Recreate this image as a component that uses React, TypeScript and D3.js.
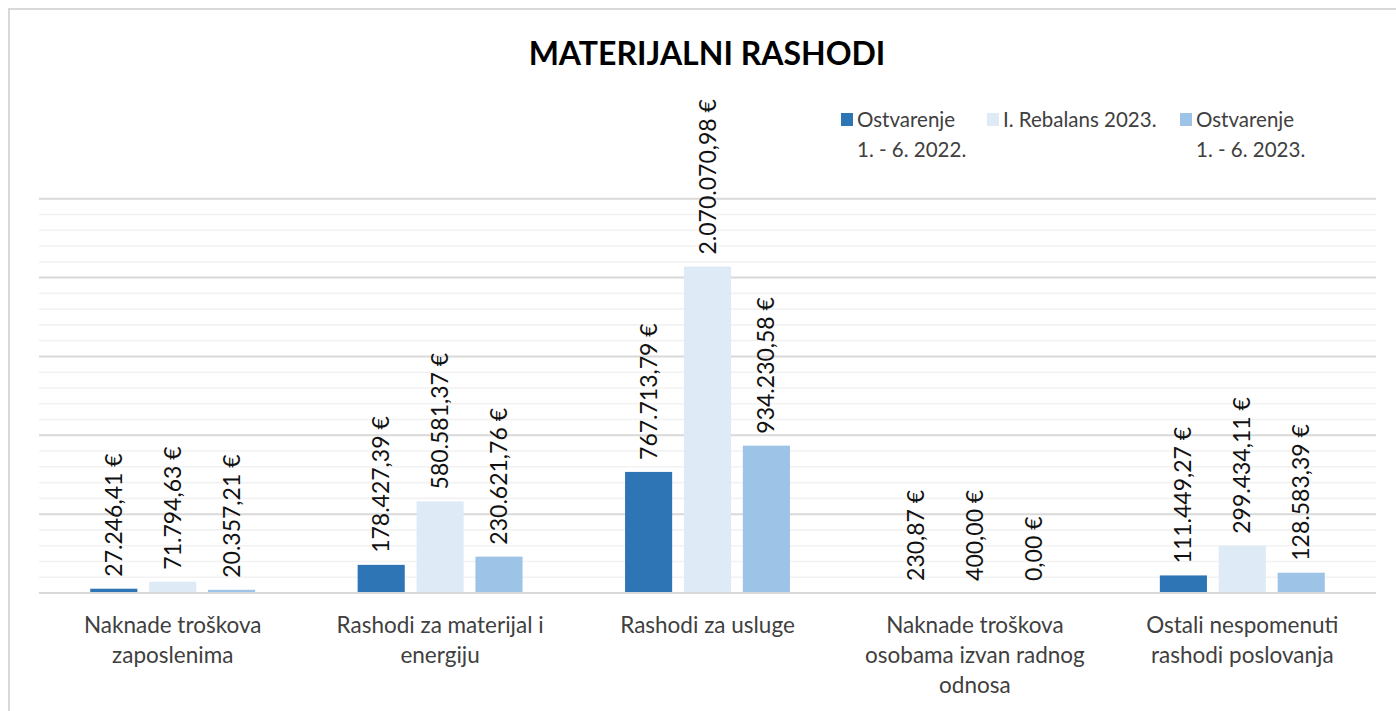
import * as d3 from 'd3';

const CATEGORIES = [
  'Naknade troškova zaposlenima',
  'Rashodi za materijal i energiju',
  'Rashodi za usluge',
  'Naknade troškova osobama izvan radnog odnosa',
  'Ostali nespomenuti rashodi poslovanja',
];
// wrapped lines as they appear under the axis
const CATEGORY_LINES = [
  ['Naknade troškova', 'zaposlenima'],
  ['Rashodi za materijal i', 'energiju'],
  ['Rashodi za usluge'],
  ['Naknade troškova', 'osobama izvan radnog', 'odnosa'],
  ['Ostali nespomenuti', 'rashodi poslovanja'],
];

const SERIES = ['Ostvarenje 1. - 6. 2022.', 'I. Rebalans 2023.', 'Ostvarenje 1. - 6. 2023.'];
const SERIES_LINES = [['Ostvarenje', '1. - 6. 2022.'], ['I. Rebalans 2023.'], ['Ostvarenje', '1. - 6. 2023.']];
const COLORS = ['#2E75B6', '#DEEBF7', '#9DC3E6'];

const REAL_2022 = [27246.41, 178427.39, 767713.79, 230.87, 111449.27];
const REBALANS_2023 = [71794.63, 580581.37, 2070070.98, 400.0, 299434.11];
const REAL_2023 = [20357.21, 230621.76, 934230.58, 0.0, 128583.39];
const VALUES = [REAL_2022, REBALANS_2023, REAL_2023];

const Y_MAX = 2500000;
const MINOR_STEP = 100000;
const MAJOR_STEP = 500000;

const FONT = "Lato, 'Open Sans', sans-serif";

const fmt = (v: number) => {
  const [int, dec] = v.toFixed(2).split('.');
  return `${int.replace(/\B(?=(\d{3})+(?!\d))/g, '.')},${dec} €`;
};

export default function App() {
  const W = 1396;
  const H = 711;
  const plot = { left: 39, right: 1376, top: 198.7, bottom: 593 };

  const x0 = d3.scaleBand<string>().domain(CATEGORIES).range([plot.left, plot.right]);
  const x1 = d3.scaleBand<string>().domain(SERIES).range([0, x0.bandwidth()]).paddingInner(0.2).paddingOuter(0.87);
  const y = d3.scaleLinear().domain([0, Y_MAX]).range([plot.bottom, plot.top]);

  const grid = d3.range(MINOR_STEP, Y_MAX + 1, MINOR_STEP);

  return (
    <svg width={W} height={H} style={{ position: 'absolute', left: 0, top: 0, background: '#fff' }} fontFamily={FONT}>
      {/* chart frame (cropped on right and bottom) */}
      <path d={`M9,${H + 5}V9H${W + 5}`} fill="none" stroke="#D9D9D9" strokeWidth={2} />

      <text x={707} y={65} textAnchor="middle" fontSize={32} fontWeight={700} fill="#000">
        MATERIJALNI RASHODI
      </text>

      {/* gridlines */}
      {grid.map((v) => {
        const major = v % MAJOR_STEP === 0;
        return (
          <line key={v} x1={plot.left} x2={plot.right} y1={y(v)} y2={y(v)}
            stroke={major ? '#D9D9D9' : '#F2F2F2'} strokeWidth={major ? 2 : 1.6} />
        );
      })}

      {/* bars */}
      {CATEGORIES.map((c, ci) => (
        <g key={c} transform={`translate(${x0(c)},0)`}>
          {SERIES.map((s, si) => {
            const v = VALUES[si][ci];
            const bx = x1(s)!;
            const cx = bx + x1.bandwidth() / 2;
            const ly = y(v) - 12;
            return (
              <g key={s}>
                <rect x={bx} y={y(v)} width={x1.bandwidth()} height={plot.bottom - y(v)} fill={COLORS[si]} />
                <text transform={`translate(${cx + 8},${ly}) rotate(-90)`} fontSize={23} fill="#111">
                  {fmt(v)}
                </text>
              </g>
            );
          })}
        </g>
      ))}

      {/* baseline */}
      <line x1={plot.left} x2={plot.right} y1={plot.bottom} y2={plot.bottom} stroke="#D9D9D9" strokeWidth={2} />

      {/* category labels */}
      {CATEGORIES.map((c, ci) => (
        <text key={c} textAnchor="middle" fontSize={22.5} fill="#404040">
          {CATEGORY_LINES[ci].map((ln, li) => (
            <tspan key={li} x={x0(c)! + x0.bandwidth() / 2} y={633 + li * 30}>{ln}</tspan>
          ))}
        </text>
      ))}

      {/* legend */}
      {SERIES.map((s, si) => {
        const lx = [841, 987, 1180][si];
        return (
          <g key={s}>
            <rect x={lx} y={113} width={12} height={13} fill={COLORS[si]} />
            <text fontSize={20.5} fill="#404040">
              {SERIES_LINES[si].map((ln, li) => (
                <tspan key={li} x={lx + 16} y={127 + li * 30}>{ln}</tspan>
              ))}
            </text>
          </g>
        );
      })}
    </svg>
  );
}
